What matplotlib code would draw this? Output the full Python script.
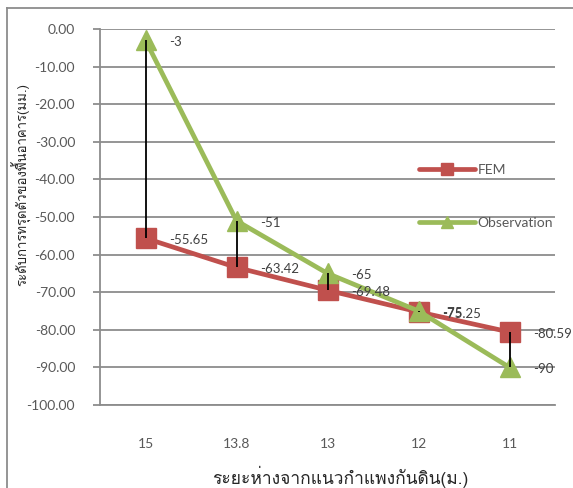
import matplotlib
matplotlib.use("Agg")
import matplotlib.pyplot as plt
from matplotlib import font_manager, ft2font
from matplotlib.lines import Line2D

# distance from retaining wall (m) and settlement (mm)
categories = ["15", "13.8", "13", "12", "11"]
fem = [-55.65, -63.42, -69.48, -75.25, -80.59]
observation = [-3, -51, -65, -75, -90]
fem_labels = ["-55.65", "-63.42", "-69.48", "-75.25", "-80.59"]
obs_labels = ["-3", "-51", "-65", "-75", "-90"]
yticks = [0, -10, -20, -30, -40, -50, -60, -70, -80, -90, -100]

x_title = "ระยะห่างจากแนวกำแพงกันดิน(ม.)"
y_title = "ระดับการทรุดตัวของพื้นอาคาร(มม.)"


def thai_family():
    for f in font_manager.fontManager.ttflist:
        try:
            cm = ft2font.FT2Font(f.fname).get_charmap()
        except Exception:
            continue
        if 0x0E01 in cm and 0x0E49 in cm and 0x0E33 in cm:
            return f.name
    return None


num_font = "Lato"
tf = thai_family()
thai_fonts = ([tf] if tf else []) + ["DejaVu Sans"]
plt.rcParams["font.family"] = [num_font, "DejaVu Sans"]

W, H = 573, 488
fig = plt.figure(figsize=(W / 100, H / 100), dpi=100)
ax = fig.add_axes([100 / W, 1 - 405 / H, 455 / W, 376 / H])

grid_c = "#8c8c8c"
text_c = "#595959"
red = "#C0504D"
green = "#9BBB59"

xs = list(range(len(categories)))
ax.set_xlim(-0.5, len(categories) - 0.5)
ax.set_ylim(-100, 0)

for y in yticks:
    ax.axhline(y, color=grid_c, lw=1.3, zorder=0)

ax.plot(xs, fem, color=red, lw=3.4, marker="s", ms=14, mfc=red, mec=red,
        label="FEM", zorder=3, solid_capstyle="round")
ax.plot(xs, observation, color=green, lw=3.4, marker="^", ms=15, mfc=green,
        mec=green, label="Observation", zorder=4, solid_capstyle="round")

# high-low connectors between the two series
ax.vlines(xs, observation, fem, color="black", lw=1.3, zorder=6)

for x, v, t in zip(xs, fem, fem_labels):
    ax.annotate(t, (x, v), xytext=(24, -2), textcoords="offset pixels",
                ha="left", va="center", fontsize=9.5, color="#404040", zorder=7)
for x, v, t in zip(xs, observation, obs_labels):
    ax.annotate(t, (x, v), xytext=(24, -2), textcoords="offset pixels",
                ha="left", va="center", fontsize=9.5, color="#404040", zorder=7)

ax.set_yticks(yticks)
ax.set_yticklabels([f"{v:.2f}" for v in yticks], fontsize=10, color=text_c)
ax.set_xticks(xs)
ax.set_xticklabels(categories, fontsize=10, color=text_c)
ax.tick_params(axis="y", length=5, width=1.3, color=grid_c, pad=13)
ax.tick_params(axis="x", length=0, pad=24)

for s in ["top", "right"]:
    ax.spines[s].set_visible(False)
for s in ["left", "bottom"]:
    ax.spines[s].set_color(grid_c)
    ax.spines[s].set_linewidth(1.3)

leg = ax.legend(loc="upper left", bbox_to_anchor=(419 / W, 1 - 164 / H),
                bbox_transform=fig.transFigure, frameon=False, fontsize=10,
                handlelength=4.0, handletextpad=0.2, labelspacing=2.95,
                borderpad=0, borderaxespad=0)
for h in leg.legend_handles:
    h.set_markersize(8)
for t in leg.get_texts():
    t.set_color(text_c)

fig.text(340 / W, 1 - 477 / H, x_title, ha="center", va="center",
         fontsize=12.5, color="#262626", family=thai_fonts)
fig.text(21 / W, 1 - 185 / H, y_title, ha="center", va="center",
         rotation=90, fontsize=9.5, color="#262626", family=thai_fonts)

# chart frame edges
fig.add_artist(Line2D([7 / W, 1], [1 - 8 / H, 1 - 8 / H], color=grid_c,
                      lw=1.3, transform=fig.transFigure))
fig.add_artist(Line2D([7 / W, 7 / W], [1 - 8 / H, 0], color=grid_c,
                      lw=1.3, transform=fig.transFigure))

fig.savefig("out.png", dpi=100)
